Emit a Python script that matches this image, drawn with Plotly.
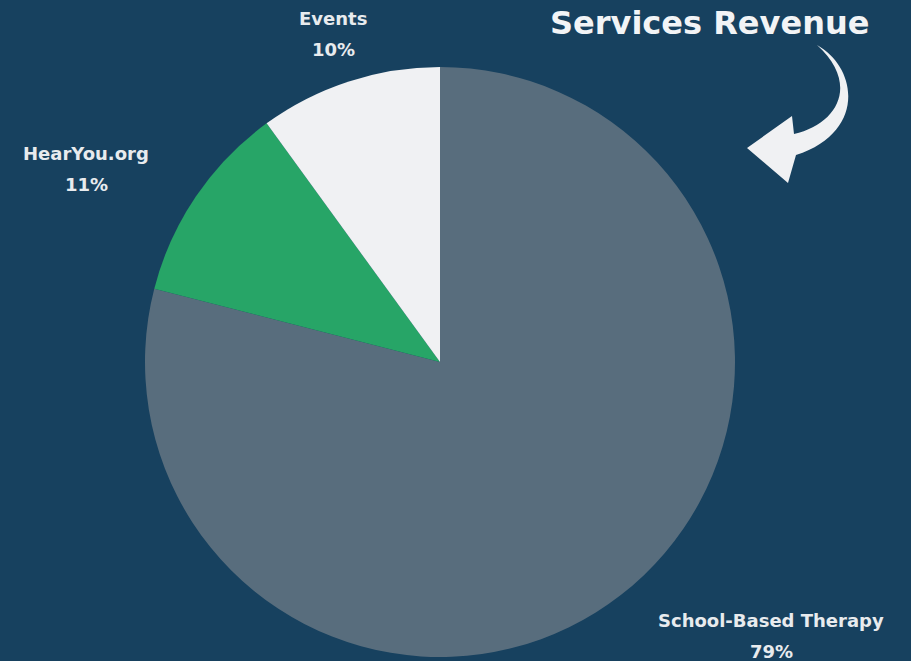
import plotly.graph_objects as go

categories = ["School-Based Therapy", "HearYou.org", "Events"]
values = [79, 11, 10]
pct_labels = ["79%", "11%", "10%"]
colors = ["#586d7d", "#27a567", "#f0f1f3"]
title_text = "Services Revenue"

W, H = 911, 661
BG = "#17415f"
TXT = "#e8ebee"
FONT = "DejaVu Sans"

cx, cy, r = 440, 362, 295

fig = go.Figure()
fig.add_trace(go.Pie(
    labels=categories, values=values, sort=False, direction="clockwise",
    rotation=0, textinfo="none", hoverinfo="label+percent",
    marker=dict(colors=colors, line=dict(width=0)),
    domain=dict(x=[(cx - r) / W, (cx + r) / W], y=[(H - cy - r) / H, (H - cy + r) / H]),
    showlegend=False,
))

# invisible pixel-like axes for annotations/shapes
fig.update_xaxes(range=[0, W], visible=False, fixedrange=True)
fig.update_yaxes(range=[H, 0], visible=False, fixedrange=True)

label_pos = {"School-Based Therapy": (771, 620), "HearYou.org": (86, 153), "Events": (333, 18)}
for cat, pct in zip(categories, pct_labels):
    x, y = label_pos[cat]
    fig.add_annotation(x=x, y=y, xref="x", yref="y", text=f"<b>{cat}</b>", showarrow=False,
                       font=dict(family=FONT, size=18, color=TXT), xanchor="center", yanchor="middle")
    fig.add_annotation(x=x, y=y + 31, xref="x", yref="y", text=f"<b>{pct}</b>", showarrow=False,
                       font=dict(family=FONT, size=18, color=TXT), xanchor="center", yanchor="middle")

fig.add_annotation(x=709, y=2, xref="x", yref="y", text=f"<b>{title_text}</b>", showarrow=False,
                   font=dict(family=FONT, size=32, color="#f2f4f6"), xanchor="center", yanchor="top")

# curved arrow
arrow_path = ("M 747,148 L 792,116 L 794,134 C 838,124 860,84 817,45 "
              "C 858,68 866,132 796,155 L 788,183 Z")
fig.add_shape(type="path", path=arrow_path, xref="x", yref="y",
              fillcolor="#f0f1f3", line=dict(width=0))

fig.update_layout(
    width=W, height=H, margin=dict(l=0, r=0, t=0, b=0),
    paper_bgcolor=BG, plot_bgcolor=BG,
)
fig.write_html("out.html", config={"displayModeBar": False},
               post_script="document.body.style.margin='0';document.body.style.background='%s';" % BG)
